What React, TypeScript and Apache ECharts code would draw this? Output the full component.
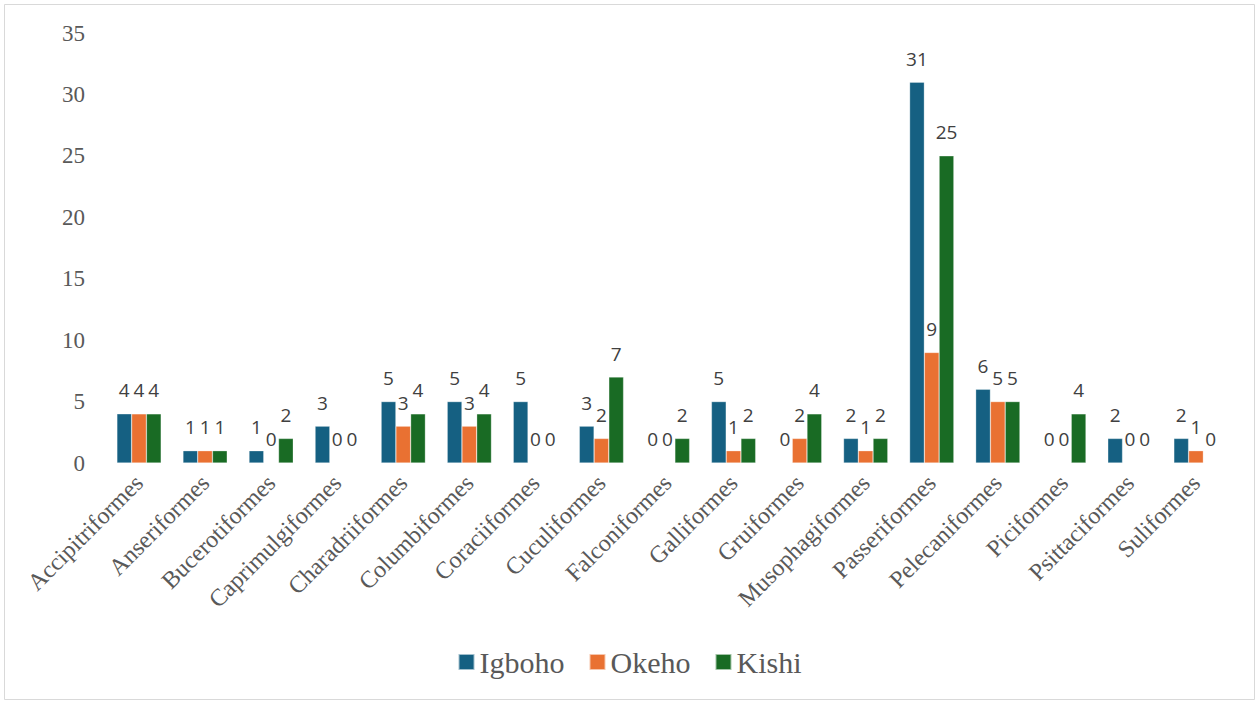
import React, { useEffect, useRef } from "react";
import * as echarts from "echarts";

const categories = [
  "Accipitriformes", "Anseriformes", "Bucerotiformes", "Caprimulgiformes", "Charadriiformes",
  "Columbiformes", "Coraciiformes", "Cuculiformes", "Falconiformes", "Galliformes",
  "Gruiformes", "Musophagiformes", "Passeriformes", "Pelecaniformes", "Piciformes",
  "Psittaciformes", "Suliformes",
];
const igboho = [4, 1, 1, 3, 5, 5, 5, 3, 0, 5, 0, 2, 31, 6, 0, 2, 2];
const okeho = [4, 1, 0, 0, 3, 3, 0, 2, 0, 1, 2, 1, 9, 5, 0, 0, 1];
const kishi = [4, 1, 2, 0, 4, 4, 0, 7, 2, 2, 4, 2, 25, 5, 4, 0, 0];
const seriesNames = ["Igboho", "Okeho", "Kishi"];
const colors = ["#156082", "#E97132", "#196B24"];

export default function App() {
  const ref = useRef<HTMLDivElement>(null);
  useEffect(() => {
    if (!ref.current) return;
    const chart = echarts.init(ref.current, null, { renderer: "svg" });
    const serif = "Liberation Serif";
    const sans = "Open Sans";
    const mk = (name: string, data: number[], color: string) => ({
      name,
      type: "bar",
      data,
      barGap: "0%",
      barCategoryGap: "33%",
      itemStyle: { color, borderColor: "rgba(255,255,255,0.6)", borderWidth: 0.5 },
      label: {
        show: true,
        position: "top",
        distance: 14,
        color: "#404040",
        fontFamily: sans,
        fontSize: 19,
      },
    });

    chart.setOption({
      animation: false,
      color: colors,
      textStyle: { fontFamily: serif },
      graphic: [
        {
          type: "rect",
          shape: { x: 4.5, y: 4.5, width: 1250, height: 695 },
          style: { fill: "none", stroke: "#d9d9d9", lineWidth: 1 },
          silent: true,
        },
      ],
      legend: {
        bottom: 22,
        left: "center",
        itemWidth: 16,
        itemHeight: 16,
        itemGap: 24,
        icon: "rect",
        data: seriesNames,
        textStyle: {
          fontFamily: "serif",
          fontSize: 30,
          color: "#595959",
        },
      },
      grid: { left: 106, right: 30, top: 33, bottom: 241, containLabel: false },
      xAxis: {
        type: "category",
        data: categories,
        axisLine: { show: false },
        axisTick: { show: false },
        axisLabel: {
          rotate: 45,
          interval: 0,
          margin: 16,
          fontFamily: serif,
          fontSize: 24,
          color: "#595959",
        },
      },
      yAxis: {
        type: "value",
        min: 0,
        max: 35,
        interval: 5,
        axisLine: { show: false },
        axisTick: { show: false },
        splitLine: { show: false },
        axisLabel: {
          margin: 21,
          fontFamily: serif,
          fontSize: 23,
          color: "#595959",
        },
      },
      series: [
        mk(seriesNames[0], igboho, colors[0]),
        mk(seriesNames[1], okeho, colors[1]),
        mk(seriesNames[2], kishi, colors[2]),
      ],
    });
    return () => chart.dispose();
  }, []);
  return (
    <div
      ref={ref}
      style={{ position: "absolute", left: 0, top: 0, width: 1259, height: 704, background: "#fff" }}
    />
  );
}
